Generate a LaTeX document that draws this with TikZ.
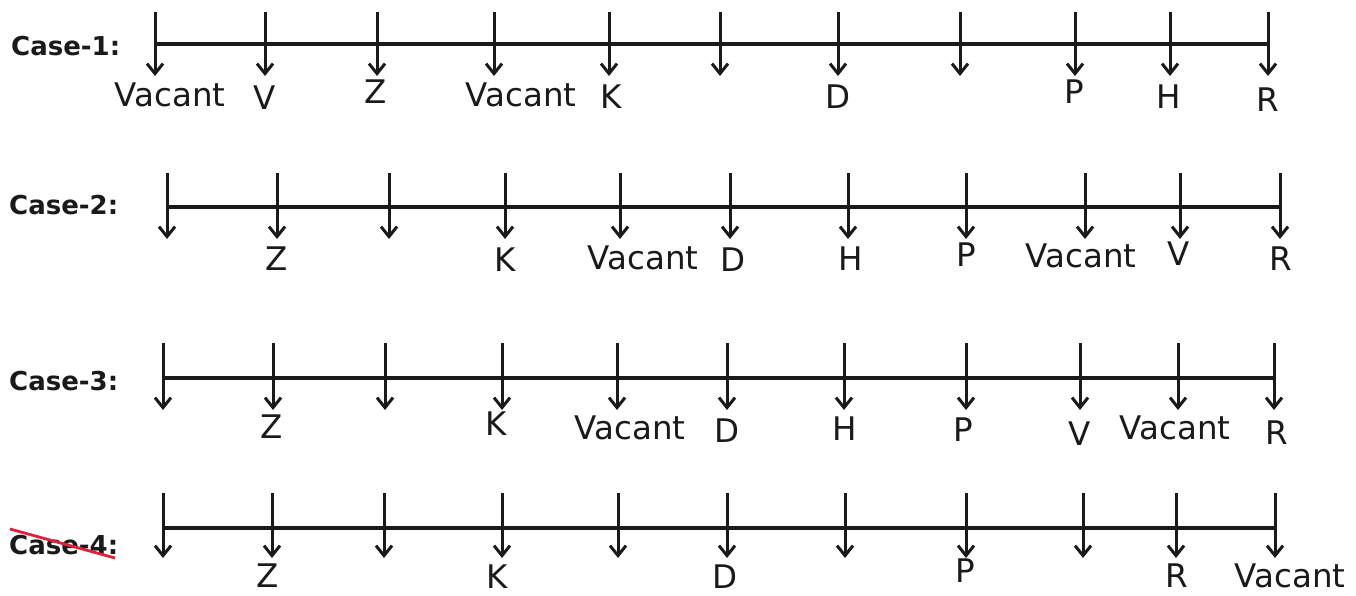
\documentclass[tikz,border=0pt]{standalone}
\usepackage{fontspec}
\setmainfont{DejaVu Sans}
\usetikzlibrary{arrows.meta}
\definecolor{ink}{HTML}{1A1A1A}
\definecolor{strike}{HTML}{E0203A}
\tikzset{
  arr/.style={draw=ink, line width=3pt, -{Straight Barb[length=10pt,width=16pt,line width=3pt]}},
  axis/.style={draw=ink, line width=3.4pt},
  lab/.style={text=ink, inner sep=0pt, font=\fontsize{32.5}{34}\selectfont},
  casel/.style={text=ink, inner sep=0pt, anchor=west, font=\bfseries\fontsize{26}{28}\selectfont},
}
\begin{document}
\begin{tikzpicture}[x=1pt,y=-1pt]
\useasboundingbox (0,0) rectangle (1356,596);
\fill[white] (0,0) rectangle (1356,596);

% ---------- Case 1 ----------
\node[casel] (case1) at (11,46) {Case-1:};
\coordinate (c1l) at (157,44);
\coordinate (c1r) at (1268,44);
\draw[axis] (c1l) -- (c1r);
\foreach \x [count=\i] in {155,265,377,494,609,720,838,960,1075,1170,1268}{
  \coordinate (c1t\i) at (\x,12);
  \coordinate (c1b\i) at (\x,76);
  \draw[arr] (c1t\i) -- (c1b\i);
}
\node[lab] (c1n1) at (170,95) {Vacant};
\node[lab] (c1n2) at (265,98) {V};
\node[lab] (c1n3) at (376,92) {Z};
\node[lab] (c1n4) at (521,95) {Vacant};
\node[lab] (c1n5) at (611,97) {K};
\node[lab] (c1n7) at (838,97) {D};
\node[lab] (c1n9) at (1074,92) {P};
\node[lab] (c1n10) at (1169,97) {H};
\node[lab] (c1n11) at (1268,100) {R};

% ---------- Case 2 ----------
\node[casel] (case2) at (9,205) {Case-2:};
\coordinate (c2l) at (168,207);
\coordinate (c2r) at (1280,207);
\draw[axis] (c2l) -- (c2r);
\foreach \x [count=\i] in {167,277,389,505,620,730,848,966,1085,1180,1280}{
  \coordinate (c2t\i) at (\x,173);
  \coordinate (c2b\i) at (\x,239);
  \draw[arr] (c2t\i) -- (c2b\i);
}
\node[lab] (c2n2) at (277,259) {Z};
\node[lab] (c2n4) at (505,260) {K};
\node[lab] (c2n5) at (643,258) {Vacant};
\node[lab] (c2n6) at (733,260) {D};
\node[lab] (c2n7) at (851,259) {H};
\node[lab] (c2n8) at (966,255) {P};
\node[lab] (c2n9) at (1081,256) {Vacant};
\node[lab] (c2n10) at (1179,254) {V};
\node[lab] (c2n11) at (1281,259) {R};

% ---------- Case 3 ----------
\node[casel] (case3) at (9,381) {Case-3:};
\coordinate (c3l) at (164,378);
\coordinate (c3r) at (1274,378);
\draw[axis] (c3l) -- (c3r);
\foreach \x [count=\i] in {163,273,385,502,617,727,844,966,1080,1178,1274}{
  \coordinate (c3t\i) at (\x,343);
  \coordinate (c3b\i) at (\x,410);
  \draw[arr] (c3t\i) -- (c3b\i);
}
\node[lab] (c3n2) at (272,427) {Z};
\node[lab] (c3n4) at (496,424) {K};
\node[lab] (c3n5) at (630,428) {Vacant};
\node[lab] (c3n6) at (727,431) {D};
\node[lab] (c3n7) at (845,429) {H};
\node[lab] (c3n8) at (963,430) {P};
\node[lab] (c3n9) at (1080,434) {V};
\node[lab] (c3n10) at (1175,428) {Vacant};
\node[lab] (c3n11) at (1277,433) {R};

% ---------- Case 4 ----------
\node[casel] (case4) at (9,545) {Case-4:};
\coordinate (s1) at (10,529);
\coordinate (s2) at (115,558);
\draw[strike, line width=2.8pt] (s1) -- (s2);
\coordinate (c4l) at (164,528);
\coordinate (c4r) at (1275,528);
\draw[axis] (c4l) -- (c4r);
\foreach \x [count=\i] in {163,272,384,502,618,727,845,966,1083,1176,1275}{
  \coordinate (c4t\i) at (\x,493);
  \coordinate (c4b\i) at (\x,558);
  \draw[arr] (c4t\i) -- (c4b\i);
}
\node[lab] (c4n2) at (268,576) {Z};
\node[lab] (c4n4) at (497,577) {K};
\node[lab] (c4n6) at (725,577) {D};
\node[lab] (c4n8) at (965,571) {P};
\node[lab] (c4n10) at (1177,576) {R};
\node[lab] (c4n11) at (1290,576) {Vacant};
\end{tikzpicture}
\end{document}
